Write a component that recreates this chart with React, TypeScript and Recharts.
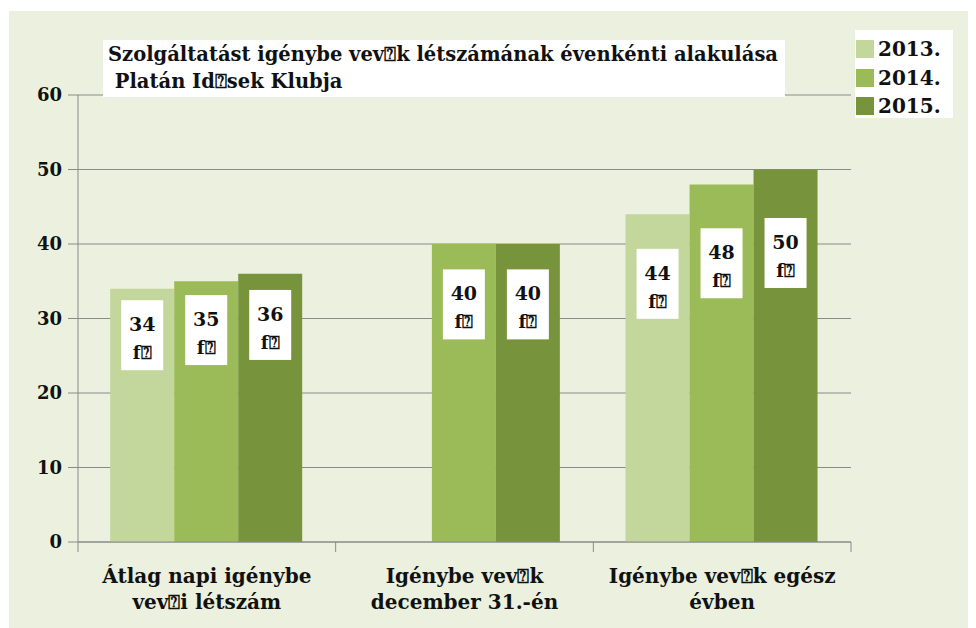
import React from "react";
import { BarChart, Bar, XAxis, YAxis, CartesianGrid, Legend } from "recharts";

// chart values
const categories = [
  "Átlag napi igénybe\nvev⍰i létszám",
  "Igénybe vev⍰k\ndecember 31.-én",
  "Igénybe vev⍰k egész\névben",
];
const years = ["2013.", "2014.", "2015."];
const values2013 = [34, null, 44];
const values2014 = [35, 40, 48];
const values2015 = [36, 40, 50];
const yTicks = [0, 10, 20, 30, 40, 50, 60];
const unitLabel = "f⍰";
const titleLines = [
  "Szolgáltatást igénybe vev⍰k létszámának évenkénti alakulása",
  " Platán Id⍰sek Klubja",
];

const colors = ["#c3d69b", "#9bbb59", "#77933c"];
const serif = "'DejaVu Serif', serif";
const gridColor = "#8a8a8a";

const data = categories.map((name, i) => ({
  name,
  y2013: values2013[i],
  y2014: values2014[i],
  y2015: values2015[i],
}));

const CategoryTick = (props: any) => {
  const { x, y, payload, index, visibleTicksCount } = props;
  const half = payload?.offset || 128.5;
  const lines = String(payload.value).split("\n");
  const last = index === (visibleTicksCount ?? categories.length) - 1;
  return (
    <g>
      <line x1={x - half} x2={x - half} y1={y} y2={y + 10} stroke={gridColor} />
      {last && <line x1={x + half} x2={x + half} y1={y} y2={y + 10} stroke={gridColor} />}
      {lines.map((t, i) => (
        <text
          key={i}
          x={x}
          y={y + 41 + i * 26}
          textAnchor="middle"
          fill="#111"
          fontSize={20}
          fontWeight={700}
          fontFamily={serif}
        >
          {t}
        </text>
      ))}
    </g>
  );
};

const renderBoxLabel = (props: any) => {
  const { x, y, width, height, value } = props;
  if (value == null) return null;
  const cx = Number(x) + Number(width) / 2;
  const cy = Number(y) + 0.31 * Number(height) - 32;
  return (
    <g>
      <rect x={cx - 21} y={cy - 35} width={42} height={70} fill="#fff" />
      <text x={cx} y={cy - 4} textAnchor="middle" fill="#111" fontSize={19} fontWeight={700} fontFamily={serif}>
        {value}
      </text>
      <text x={cx} y={cy + 24} textAnchor="middle" fill="#111" fontSize={18} fontWeight={700} fontFamily={serif}>
        {unitLabel}
      </text>
    </g>
  );
};

const renderLegend = (props: any) => {
  const items = props.payload || [];
  return (
    <div style={{ background: "#fff", width: 98, height: 88, paddingTop: 5, boxSizing: "border-box" }}>
      {items.map((p: any, i: number) => (
        <div key={i} style={{ display: "flex", alignItems: "center", height: 28.5 }}>
          <span style={{ width: 18, height: 18, background: p.color, marginLeft: 1, marginRight: 4 }} />
          <span style={{ fontFamily: serif, fontWeight: 700, fontSize: 20, color: "#111" }}>{p.value}</span>
        </div>
      ))}
    </div>
  );
};

export default function App() {
  return (
    <div style={{ position: "relative", width: 968, height: 620, background: "#fff" }}>
      <div style={{ position: "absolute", left: 1, top: 3, right: 0, bottom: 0, background: "#ebf1de" }} />
      <div style={{ position: "absolute", left: 0, top: 0 }}>
        <BarChart
          width={968}
          height={620}
          data={data}
          margin={{ top: 87, right: 125, bottom: 0, left: 0 }}
          barCategoryGap="12.5%"
          barGap={0}
        >
          <CartesianGrid vertical={false} stroke={gridColor} />
          <XAxis
            dataKey="name"
            height={86}
            axisLine={{ stroke: gridColor }}
            tickLine={false}
            tickSize={0}
            tickMargin={0}
            interval={0}
            tick={<CategoryTick />}
          />
          <YAxis
            width={70}
            domain={[0, 60]}
            ticks={yTicks}
            axisLine={{ stroke: gridColor }}
            tickLine={{ stroke: gridColor }}
            tickSize={10}
            tickMargin={6}
            tick={{ fill: "#111", fontSize: 18, fontWeight: 700, fontFamily: serif }}
          />
          <Legend
            layout="horizontal"
            align="center"
            verticalAlign="middle"
            content={renderLegend}
            wrapperStyle={{ left: 847, top: 22, width: 98, height: 88 }}
          />
          <Bar dataKey="y2013" name={years[0]} fill={colors[0]} isAnimationActive={false} label={renderBoxLabel} />
          <Bar dataKey="y2014" name={years[1]} fill={colors[1]} isAnimationActive={false} label={renderBoxLabel} />
          <Bar dataKey="y2015" name={years[2]} fill={colors[2]} isAnimationActive={false} label={renderBoxLabel} />
        </BarChart>
      </div>
      <div
        style={{
          position: "absolute",
          left: 95,
          top: 32,
          width: 682,
          height: 57,
          background: "#fff",
          fontFamily: serif,
          fontWeight: 700,
          fontSize: 19.5,
          lineHeight: "27px",
          color: "#111",
          paddingLeft: 5,
          paddingTop: 1,
          boxSizing: "border-box",
          whiteSpace: "pre",
        }}
      >
        {titleLines.map((t, i) => (
          <div key={i}>{t}</div>
        ))}
      </div>
    </div>
  );
}
